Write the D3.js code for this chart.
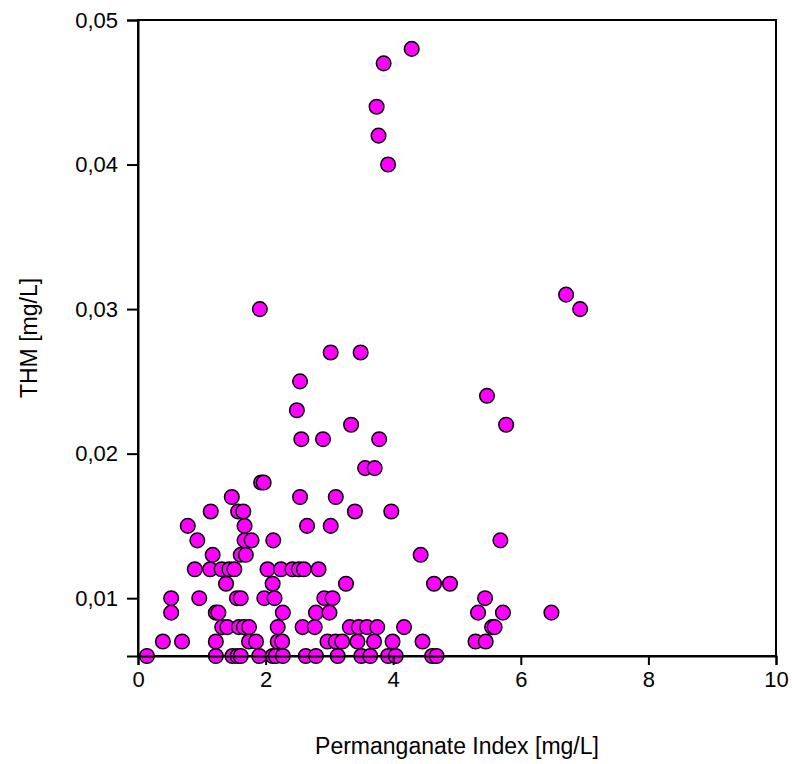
<!DOCTYPE html>
<html>
<head>
<meta charset="utf-8">
<script src="https://cdn.jsdelivr.net/npm/d3@7"></script>
<style>
  html, body { margin: 0; padding: 0; background: #fff; }
  svg text { font-family: Arial, "Liberation Sans", sans-serif; fill: #000; }
</style>
</head>
<body>
<svg id="chart" width="792" height="764"></svg>
<script>
// Permanganate index values [mg/L]
const permanganate = [
  0.14, 1.22, 1.48, 1.56, 1.61, 1.90, 2.11, 2.16, 2.27, 2.63, 2.79, 3.13, 3.50, 3.64, 3.92, 4.04, 4.61, 4.68,
  0.39, 0.69, 1.22, 1.74, 1.85, 2.19, 2.26, 2.97, 3.10, 3.20, 3.44, 3.70, 3.99, 4.46, 5.29, 5.45,
  1.32, 1.40, 1.58, 1.66, 1.74, 2.19, 2.58, 2.77, 3.32, 3.46, 3.59, 3.75, 4.17, 5.55, 5.59,
  0.52, 1.22, 1.26, 2.27, 2.79, 3.00, 5.33, 5.72, 6.48,
  0.52, 0.96, 1.55, 1.61, 1.98, 2.14, 2.92, 3.05, 5.44,
  1.38, 2.11, 3.26, 4.64, 4.89,
  0.89, 1.13, 1.31, 1.43, 1.51, 2.03, 2.24, 2.42, 2.52, 2.60, 2.83,
  1.17, 1.61, 1.69, 4.43,
  0.93, 1.67, 1.78, 2.12, 5.68,
  0.78, 1.67, 2.65, 3.02,
  1.14, 1.57, 1.65, 3.40, 3.97,
  1.47, 2.54, 3.10,
  1.93, 1.97,
  3.56, 3.71,
  2.56, 2.90, 3.78,
  3.34, 5.77,
  2.49,
  5.47,
  2.54,
  3.02, 3.49,
  1.91, 6.93,
  6.71,
  3.92, 3.77, 3.74, 3.85, 4.29
];
// THM values [mg/L]
const thm = [
  0.006, 0.006, 0.006, 0.006, 0.006, 0.006, 0.006, 0.006, 0.006, 0.006, 0.006, 0.006, 0.006, 0.006, 0.006, 0.006, 0.006, 0.006,
  0.007, 0.007, 0.007, 0.007, 0.007, 0.007, 0.007, 0.007, 0.007, 0.007, 0.007, 0.007, 0.007, 0.007, 0.007, 0.007,
  0.008, 0.008, 0.008, 0.008, 0.008, 0.008, 0.008, 0.008, 0.008, 0.008, 0.008, 0.008, 0.008, 0.008, 0.008,
  0.009, 0.009, 0.009, 0.009, 0.009, 0.009, 0.009, 0.009, 0.009,
  0.010, 0.010, 0.010, 0.010, 0.010, 0.010, 0.010, 0.010, 0.010,
  0.011, 0.011, 0.011, 0.011, 0.011,
  0.012, 0.012, 0.012, 0.012, 0.012, 0.012, 0.012, 0.012, 0.012, 0.012, 0.012,
  0.013, 0.013, 0.013, 0.013,
  0.014, 0.014, 0.014, 0.014, 0.014,
  0.015, 0.015, 0.015, 0.015,
  0.016, 0.016, 0.016, 0.016, 0.016,
  0.017, 0.017, 0.017,
  0.018, 0.018,
  0.019, 0.019,
  0.021, 0.021, 0.021,
  0.022, 0.022,
  0.023,
  0.024,
  0.025,
  0.027, 0.027,
  0.030, 0.030,
  0.031,
  0.040, 0.042, 0.044, 0.047, 0.048
];
const xTicks = [0, 2, 4, 6, 8, 10];
const yTicks = [0.01, 0.02, 0.03, 0.04, 0.05];
const xDomain = [0, 10];
const yDomain = [0.006, 0.05];
const xTitle = "Permanganate Index [mg/L]";
const yTitle = "THM [mg/L]";

const svg = d3.select("#chart");
const m = { left: 138, right: 776, top: 20, bottom: 656 };

const x = d3.scaleLinear().domain(xDomain).range([m.left, m.right]);
const y = d3.scaleLinear().domain(yDomain).range([m.bottom, m.top]);

const data = permanganate.map((v, i) => ({ x: v, y: thm[i] }));

const comma = v => d3.format(".2f")(v).replace(".", ",");

// Frame
svg.append("rect")
  .attr("x", m.left).attr("y", m.top)
  .attr("width", m.right - m.left).attr("height", m.bottom - m.top)
  .attr("fill", "none").attr("stroke", "#000").attr("stroke-width", 2);

// Points
svg.append("g").selectAll("circle").data(data).join("circle")
  .attr("cx", d => x(d.x)).attr("cy", d => y(d.y)).attr("r", 7.3)
  .attr("fill", "#ff00ff").attr("stroke", "#000").attr("stroke-width", 1.5);

// X axis
const xAxis = svg.append("g").attr("transform", `translate(0,${m.bottom})`)
  .call(d3.axisBottom(x).tickValues(xTicks).tickFormat(d3.format("d")).tickSize(9).tickPadding(6));
xAxis.select(".domain").attr("stroke-width", 2);
xAxis.selectAll(".tick line").attr("stroke-width", 2);
xAxis.selectAll("text").attr("font-size", 22).style("font-family", "Arial, 'Liberation Sans', sans-serif");

// Y axis
const yAxis = svg.append("g").attr("transform", `translate(${m.left},0)`)
  .call(d3.axisLeft(y).tickValues(yTicks).tickFormat(comma).tickSize(11).tickPadding(9));
yAxis.select(".domain").attr("stroke-width", 2);
yAxis.selectAll(".tick line").attr("stroke-width", 2);
yAxis.selectAll("text").attr("font-size", 22).style("font-family", "Arial, 'Liberation Sans', sans-serif");

// Titles
svg.append("text").attr("x", (m.left + m.right) / 2).attr("y", 754)
  .attr("text-anchor", "middle").attr("font-size", 23).text(xTitle);
svg.append("text").attr("transform", `translate(37,${(m.top + m.bottom) / 2}) rotate(-90)`)
  .attr("text-anchor", "middle").attr("font-size", 23).text(yTitle);
</script>
</body>
</html>
